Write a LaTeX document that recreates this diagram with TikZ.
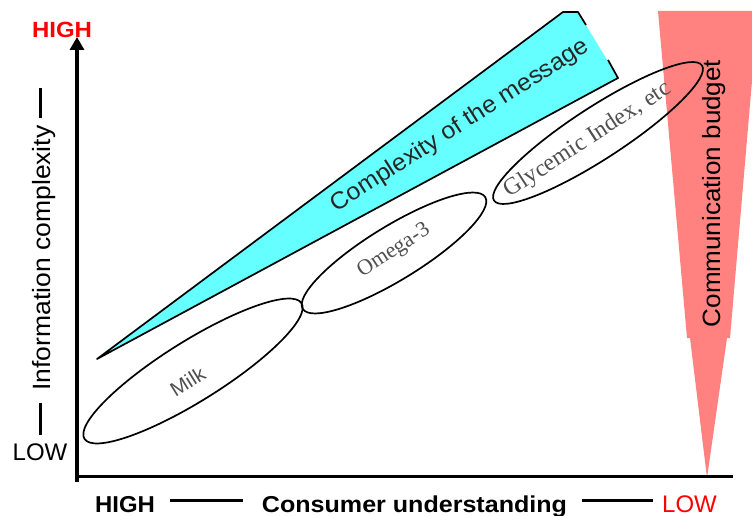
\documentclass[tikz,border=0pt]{standalone}
\usepackage{fontspec}
\setmainfont{Liberation Sans}
\newfontfamily\timesfont{Liberation Serif}
\usetikzlibrary{arrows.meta,shapes.geometric}
\definecolor{wedgecyan}{RGB}{102,255,255}
\definecolor{budgetred}{RGB}{255,130,128}
\definecolor{hired}{RGB}{255,0,0}
\definecolor{labelgray}{RGB}{80,80,80}
\newcommand{\fsz}[1]{\fontsize{#1}{#1}\selectfont}
\begin{document}
\begin{tikzpicture}[x=1pt,y=-1pt,
  axis/.style={line width=3.2pt},
  dashmark/.style={line width=3pt},
  outline/.style={line width=1.7pt, line join=round},
  zone/.style={ellipse, draw, line width=1.7pt, inner sep=0pt, outer sep=0pt},
  txt/.style={inner sep=0pt, outer sep=0pt},
  product/.style={txt, text=labelgray}]
\useasboundingbox (0,0) rectangle (752,516);

% communication budget funnel
\begin{scope}
  \clip (0,0) rectangle (752,516);
  \fill[budgetred] (658,11) -- (758,11) -- (730,338) -- (727,338) -- (707,478)
    -- (690,338) -- (687,338) -- cycle;
\end{scope}

% complexity of the message wedge
\fill[wedgecyan] (97,359) -- (563,12) -- (578,12) -- (618,78) -- cycle;
\draw[outline] (586,25) -- (578,12) -- (563,12) -- (97,359) -- (618,78) -- (608,60);

% axes
\coordinate (origin) at (77,481.5);
\coordinate (ytop) at (77,37);
\coordinate (xleft) at (75.5,476.5);
\coordinate (xend) at (733,476.5);
\draw[axis, -{Triangle[width=14pt,length=13pt]}] (origin) -- (ytop);
\draw[axis] (xleft) -- (xend);

% product zones
\node[zone, rotate=32, minimum width=256pt, minimum height=60pt] (milkzone) at (193,371) {};
\node[zone, rotate=31.5, minimum width=214pt, minimum height=54pt] (omegazone) at (394,253) {};
\node[zone, rotate=33, minimum width=248pt, minimum height=52pt] (gizone) at (598,133) {};

\node[product, rotate=32, font=\fsz{20}] (milk) at (187.5,381.5) {\scalebox{1.05}[1]{Milk}};
\node[product, rotate=33, font=\timesfont\fsz{22}] (omega) at (394,251) {Omega-3};
\node[product, rotate=33, font=\timesfont\fsz{24}] (gi) at (588,140) {Glycemic Index, etc};

% wedge and funnel captions
\node[txt, rotate=32.6, anchor=base, font=\fsz{24}, text=black!85] (message) at (463.5,131)
  {\scalebox{1.04}[1]{Complexity of the message}};
\node[txt, rotate=90, anchor=base, font=\fsz{25}] (budget) at (720,193.5)
  {\scalebox{1.04}[1]{Communication budget}};

% vertical axis labels
\node[txt, font=\bfseries\fsz{22}, text=hired] (yhigh) at (62,30) {\scalebox{1.09}[1]{HIGH}};
\node[txt, font=\fsz{24}] (ylow) at (40,452.5) {LOW};
\node[txt, rotate=90, anchor=base, font=\fsz{25}] (ylabel) at (50,258)
  {\scalebox{1.06}[1]{Information complexity}};
\coordinate (ydashA1) at (40,88);
\coordinate (ydashA2) at (40,118);
\coordinate (ydashB1) at (40,403);
\coordinate (ydashB2) at (40,435);
\draw[dashmark] (ydashA1) -- (ydashA2);
\draw[dashmark] (ydashB1) -- (ydashB2);

% horizontal axis labels
\node[txt, anchor=base, font=\bfseries\fsz{23}] (xhigh) at (125,512) {\scalebox{1.04}[1]{HIGH}};
\node[txt, anchor=base, font=\bfseries\fsz{23}] (xlabel) at (414.5,512)
  {\scalebox{1.09}[1]{Consumer understanding}};
\node[txt, anchor=base, font=\fsz{24}, text=hired] (xlow) at (689.5,512) {LOW};
\coordinate (xdashA1) at (170,500.5);
\coordinate (xdashA2) at (243,500.5);
\coordinate (xdashB1) at (582,500.5);
\coordinate (xdashB2) at (653,500.5);
\draw[dashmark] (xdashA1) -- (xdashA2);
\draw[dashmark] (xdashB1) -- (xdashB2);
\end{tikzpicture}
\end{document}
